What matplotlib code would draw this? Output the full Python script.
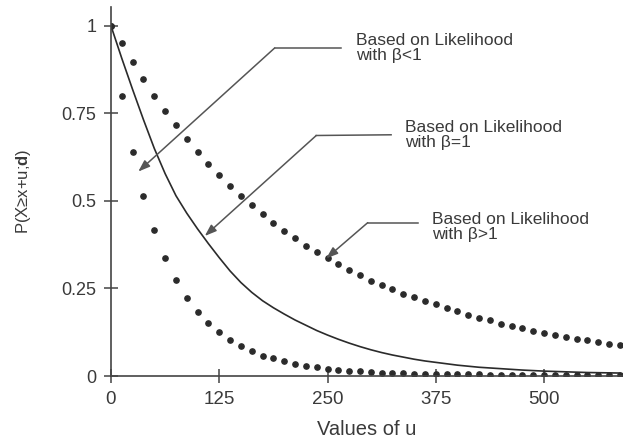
import numpy as np
import matplotlib
matplotlib.use("Agg")
import matplotlib.pyplot as plt

plt.rcParams['font.family'] = ['Liberation Sans', 'DejaVu Sans']
plt.rcParams['mathtext.fontset'] = 'custom'
plt.rcParams['mathtext.rm'] = 'Liberation Sans'
plt.rcParams['mathtext.bf'] = 'Liberation Sans:bold'

# ---- data ----
u_dots = np.arange(0, 600, 12.5)  # 48 sample points, 0 .. 587.5

p_upper = [1.0, 0.951, 0.898, 0.848, 0.799, 0.758, 0.716, 0.678, 0.639, 0.606,
           0.573, 0.543, 0.514, 0.489, 0.463, 0.438, 0.414, 0.394, 0.372, 0.354,
           0.337, 0.319, 0.303, 0.288, 0.272, 0.259, 0.248, 0.235, 0.225, 0.215,
           0.205, 0.195, 0.185, 0.175, 0.167, 0.159, 0.150, 0.143, 0.136, 0.129,
           0.124, 0.117, 0.112, 0.107, 0.102, 0.097, 0.092, 0.089]

p_lower = [1.0, 0.80, 0.641, 0.515, 0.417, 0.336, 0.274, 0.224, 0.183, 0.151,
           0.125, 0.103, 0.086, 0.072, 0.058, 0.051, 0.042, 0.034, 0.029, 0.025,
           0.021, 0.018, 0.015, 0.013, 0.011, 0.010, 0.009, 0.008, 0.007, 0.007,
           0.006, 0.006, 0.005, 0.005, 0.005, 0.004, 0.004, 0.004, 0.004, 0.003,
           0.003, 0.003, 0.003, 0.003, 0.003, 0.003, 0.003, 0.003]

p_line = [1.0, 0.907, 0.818, 0.732, 0.650, 0.578, 0.515, 0.465, 0.420, 0.378,
          0.338, 0.300, 0.267, 0.239, 0.215, 0.195, 0.177, 0.160, 0.145, 0.130,
          0.117, 0.105, 0.094, 0.084, 0.075, 0.067, 0.060, 0.054, 0.048, 0.043,
          0.039, 0.035, 0.031, 0.028, 0.025, 0.023, 0.021, 0.019, 0.017, 0.0155,
          0.014, 0.013, 0.012, 0.011, 0.010, 0.0095, 0.009, 0.0085]

x_ticks = [0, 125, 250, 375, 500]
x_ticklabels = ['0', '125', '250', '375', '500']
y_ticks = [0, 0.25, 0.5, 0.75, 1]
y_ticklabels = ['0', '0.25', '0.5', '0.75', '1']

ann_texts = ['Based on Likelihood\nwith β<1',
             'Based on Likelihood\nwith β=1',
             'Based on Likelihood\nwith β>1']
ann_tips = [(31.5, 0.584), (108.3, 0.40), (248.5, 0.336)]
ann_elbows = [(189, 0.937), (237, 0.687), (296.4, 0.438)]
ann_ends = [(266, 0.937), (323.4, 0.689), (354, 0.438)]
ann_textpos = [(283.4, 0.936), (339.9, 0.687), (371, 0.427)]

# ---- figure ----
fig = plt.figure(figsize=(6.25, 4.43), dpi=100)
ax = fig.add_axes([0.1776, 0.1512, 0.8176, 0.8330])

dark = '#2b2b2b'
ax.plot(u_dots, p_line, color=dark, lw=1.2)
ax.plot(u_dots, p_upper, ls='none', marker='o', ms=3.8, color=dark)
ax.plot(u_dots, p_lower, ls='none', marker='o', ms=3.8, color=dark)

gray = '#555555'
for txt, tip, elb, end, tp in zip(ann_texts, ann_tips, ann_elbows, ann_ends, ann_textpos):
    ax.plot([elb[0], end[0]], [elb[1], end[1]], color=gray, lw=1.1)
    ax.annotate('', xy=tip, xytext=elb,
                arrowprops=dict(arrowstyle='-|>,head_length=0.5,head_width=0.18',
                                color=gray, lw=1.1, shrinkA=0, shrinkB=0,
                                mutation_scale=14))
    ax.text(tp[0], tp[1], txt, ha='left', va='center', fontsize=12.5,
            color='#3a3a3a', linespacing=1.0)

ax.set_xlim(0, 590)
ax.set_ylim(0, 1.054)
ax.set_xticks(x_ticks)
ax.set_xticklabels(x_ticklabels)
ax.set_yticks(y_ticks)
ax.set_yticklabels(y_ticklabels)

for s in ['top', 'right']:
    ax.spines[s].set_visible(False)
for s in ['left', 'bottom']:
    ax.spines[s].set_color('#444444')
    ax.spines[s].set_linewidth(1.2)

ax.tick_params(axis='both', direction='inout', length=9.4, width=1.1,
               color='#444444', labelcolor='#3a3a3a', pad=6)
ax.tick_params(axis='x', labelsize=13.5)
ax.tick_params(axis='y', labelsize=13)

ax.set_xlabel('Values of u', fontsize=14.5, color='#3a3a3a', labelpad=9)
ax.set_ylabel(r'P(X≥x+u;$\mathbf{d}$)', fontsize=12, color='#3a3a3a', labelpad=20)

fig.savefig('out.png', dpi=100, facecolor='white')
